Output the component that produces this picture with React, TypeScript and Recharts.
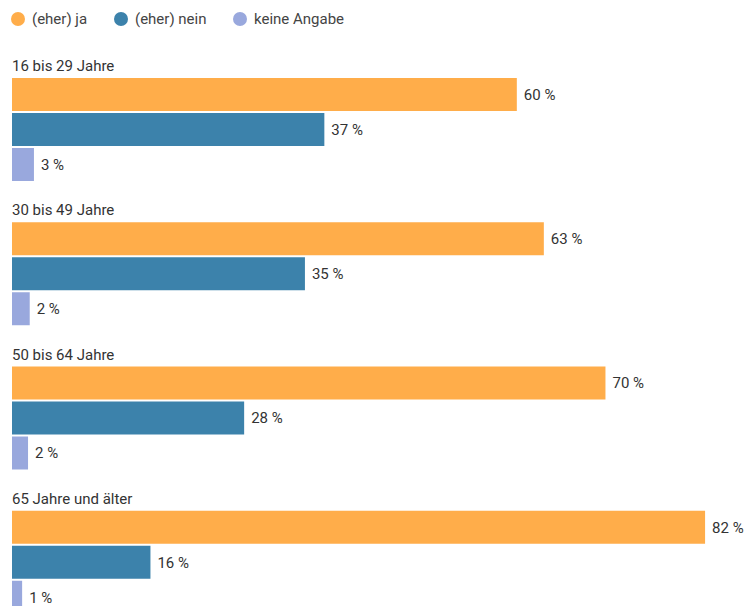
import React from "react";
import { BarChart, Bar, XAxis, YAxis, LabelList } from "recharts";

const groups = ["16 bis 29 Jahre", "30 bis 49 Jahre", "50 bis 64 Jahre", "65 Jahre und älter"];
const seriesNames = ["(eher) ja", "(eher) nein", "keine Angabe"];
const jaValues = [59.8, 63.0, 70.3, 82.1];
const neinValues = [37.0, 34.7, 27.5, 16.4];
const keineValues = [2.6, 2.1, 1.9, 1.2];
const colors = ["#FFAD4A", "#3C82AB", "#99A8DD"];

const data = groups.map((g, i) => ({
  group: g,
  ja: jaValues[i],
  nein: neinValues[i],
  keine: keineValues[i],
}));

const FONT = "Roboto, 'Noto Sans', sans-serif";
const TEXT = "#333333";

const GroupTitle = (props: any) => {
  const { y, value } = props;
  return (
    <text x={12} y={Number(y) - 7} fill={TEXT} fontSize={15} fontFamily={FONT} textAnchor="start">
      {value}
    </text>
  );
};

const fmt = (v: any) => `${Math.round(Number(v))} %`;

export default function App() {
  const keys = ["ja", "nein", "keine"];
  return (
    <div style={{ position: "relative", width: 746, height: 640, fontFamily: FONT }}>
      <style>{`body{margin:0}`}</style>
      <div style={{ position: "absolute", top: 0, left: 0, height: 40, width: 746 }}>
        {seriesNames.map((n, i) => (
          <div
            key={n}
            style={{
              position: "absolute",
              left: [11, 114, 233][i],
              top: 10,
              display: "flex",
              alignItems: "center",
              fontSize: 15,
              color: "#444",
              fontFamily: FONT,
            }}
          >
            <span
              style={{
                display: "inline-block",
                width: 14,
                height: 14,
                borderRadius: 7,
                background: colors[i],
                marginRight: 7,
              }}
            />
            <span>{n}</span>
          </div>
        ))}
      </div>
      <BarChart
        width={746}
        height={640}
        data={data}
        layout="vertical"
        margin={{ top: 57, right: 8, bottom: 6, left: 12 }}
        barGap={2}
      >
        <XAxis type="number" domain={[0, 86]} hide />
        <YAxis type="category" dataKey="group" hide />
        {keys.map((k, i) => (
          <Bar key={k} dataKey={k} name={seriesNames[i]} fill={colors[i]} barSize={33} isAnimationActive={false}>
            <LabelList
              dataKey={k}
              position="right"
              offset={7}
              formatter={fmt}
              fill={TEXT}
              fontSize={15}
              fontFamily={FONT}
            />
            {i === 0 ? <LabelList dataKey="group" content={<GroupTitle />} /> : null}
          </Bar>
        ))}
      </BarChart>
    </div>
  );
}
